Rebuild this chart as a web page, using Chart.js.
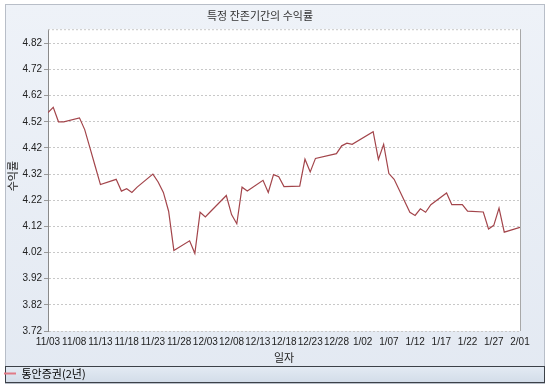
<!DOCTYPE html>
<html>
<head>
<meta charset="utf-8">
<script src="https://cdn.jsdelivr.net/npm/chart.js@4"></script>
<style>
  html, body { margin: 0; padding: 0; background: #fff; }
</style>
</head>
<body>
<canvas id="chart" width="550" height="389"></canvas>
<script>
const chartTitle = '특정 잔존기간의 수익률';
const seriesName = '통안증권(2년)';
const xTitle = '일자';
const yTitle = '수익률';

// days counted from 11/03, business days only
const days = [0, 1, 2, 3, 6, 7, 8, 9, 10, 13, 14, 15, 16, 17, 20, 21, 22, 23, 24, 27, 28, 29, 30, 31,
  34, 35, 36, 37, 38, 41, 42, 43, 44, 45, 48, 49, 50, 51, 55, 56, 57, 58, 62, 63, 64, 65, 66,
  69, 70, 71, 72, 73, 76, 77, 78, 79, 80, 83, 84, 85, 86, 87, 90];
const yields = [4.555, 4.575, 4.52, 4.52, 4.535, 4.49, 4.42, 4.35, 4.28, 4.30, 4.255, 4.264, 4.25, 4.27,
  4.32, 4.29, 4.25, 4.178, 4.028, 4.065, 4.017, 4.174, 4.156, 4.177, 4.238, 4.165, 4.13, 4.27, 4.255,
  4.296, 4.25, 4.318, 4.31, 4.272, 4.274, 4.377, 4.328, 4.38, 4.398, 4.428, 4.438, 4.434, 4.482,
  4.376, 4.434, 4.322, 4.30, 4.174, 4.162, 4.187, 4.174, 4.203, 4.248, 4.203, 4.203, 4.203, 4.178,
  4.175, 4.11, 4.124, 4.19, 4.098, 4.116];

const xTickLabels = ['11/03', '11/08', '11/13', '11/18', '11/23', '11/28', '12/03', '12/08', '12/13',
  '12/18', '12/23', '12/28', '1/02', '1/07', '1/12', '1/17', '1/22', '1/27', '2/01'];
const yTickLabels = ['3.72', '3.82', '3.92', '4.02', '4.12', '4.22', '4.32', '4.42', '4.52', '4.62', '4.72', '4.82'];

const korean = "'Noto Sans CJK KR', sans-serif";
const latin = "'Liberation Sans', Arial, sans-serif";

// frame, legend box, white plot area, y title
const framePlugin = {
  id: 'frame',
  beforeDraw(chart) {
    const ctx = chart.ctx;
    const a = chart.chartArea;
    ctx.save();
    const g = ctx.createLinearGradient(0, 4, 0, 384);
    g.addColorStop(0, '#eef2f8');
    g.addColorStop(1, '#e3e9f2');
    ctx.fillStyle = g;
    ctx.fillRect(5, 4, 539, 380);
    ctx.strokeStyle = '#b8bec8';
    ctx.lineWidth = 1;
    ctx.strokeRect(5.5, 4.5, 539, 379);

    const lt = 366;
    const lgr = ctx.createLinearGradient(0, lt, 0, 383);
    lgr.addColorStop(0, '#e4ebf4');
    lgr.addColorStop(1, '#d2dce8');
    ctx.fillStyle = lgr;
    ctx.fillRect(5, lt, 539, 383 - lt);
    ctx.strokeStyle = '#3c4148';
    ctx.strokeRect(5.5, lt + 0.5, 539, 383 - lt - 1);

    ctx.fillStyle = '#ffffff';
    ctx.fillRect(a.left, a.top, a.right - a.left, a.bottom - a.top);
    ctx.restore();
  },
  beforeDatasetsDraw(chart) {
    const ctx = chart.ctx;
    const a = chart.chartArea;
    ctx.save();
    ctx.lineWidth = 1;
    ctx.strokeStyle = '#c8c8c8';
    ctx.setLineDash([2, 2]);
    ctx.beginPath();
    ctx.moveTo(a.left, a.top + 0.5);
    ctx.lineTo(a.right, a.top + 0.5);
    ctx.stroke();
    ctx.setLineDash([]);
    ctx.strokeStyle = '#a8a8a8';
    ctx.beginPath();
    ctx.moveTo(a.right + 0.5, a.top);
    ctx.lineTo(a.right + 0.5, a.bottom);
    ctx.stroke();
    ctx.restore();
  },
  afterDraw(chart) {
    const ctx = chart.ctx;
    const a = chart.chartArea;
    ctx.save();
    ctx.translate(13, (a.top + a.bottom) / 2 - 4);
    ctx.rotate(-Math.PI / 2);
    ctx.font = '11px ' + korean;
    ctx.fillStyle = '#222';
    ctx.textAlign = 'center';
    ctx.textBaseline = 'middle';
    ctx.fillText(yTitle, 0, 0);
    ctx.restore();
  }
};

new Chart(document.getElementById('chart'), {
  type: 'line',
  data: {
    datasets: [{
      label: seriesName,
      data: days.map((d, i) => ({ x: d, y: yields[i] })),
      borderColor: '#a3454b',
      backgroundColor: '#e07a86',
      borderWidth: 1.2,
      pointRadius: 0,
      tension: 0
    }]
  },
  options: {
    responsive: false,
    animation: false,
    layout: { padding: { left: 0, right: 30, top: 0, bottom: 0 } },
    plugins: {
      title: {
        display: true,
        text: chartTitle,
        color: '#333',
        font: { family: korean, size: 11, weight: 'normal' },
        padding: { top: 9, bottom: 7 }
      },
      legend: {
        position: 'bottom',
        align: 'start',
        labels: {
          boxWidth: 12,
          boxHeight: 2,
          padding: 4,
          color: '#222',
          font: { family: korean, size: 11 },
          generateLabels: () => [{
            text: seriesName, fillStyle: '#e07a86', strokeStyle: '#e07a86', lineWidth: 0, datasetIndex: 0
          }]
        }
      },
      tooltip: { enabled: false }
    },
    scales: {
      x: {
        type: 'linear',
        min: 0,
        max: 90,
        afterBuildTicks: (scale) => { scale.ticks = xTickLabels.map((l, i) => ({ value: i * 5 })); },
        afterFit: (scale) => { scale.height = 33; },
        ticks: {
          autoSkip: false,
          maxRotation: 0,
          padding: 5,
          color: '#222',
          font: { family: latin, size: 10 },
          callback: (v, i) => xTickLabels[i]
        },
        grid: { drawOnChartArea: false, drawTicks: false },
        border: { display: false },
        title: {
          display: true,
          text: xTitle,
          color: '#222',
          font: { family: korean, size: 11 },
          padding: { top: 3, bottom: 0 }
        }
      },
      y: {
        min: 3.72,
        max: 4.874,
        afterBuildTicks: (scale) => { scale.ticks = yTickLabels.map((l) => ({ value: parseFloat(l) })); },
        afterFit: (scale) => { scale.width = 48; },
        ticks: {
          padding: 2,
          color: '#222',
          font: { family: latin, size: 10 },
          callback: (v, i) => yTickLabels[i]
        },
        grid: { color: '#c8c8c8', tickLength: 4, tickColor: '#999', tickBorderDash: [] },
        border: { display: true, color: '#8a8a8a', dash: [2, 2] }
      }
    }
  },
  plugins: [framePlugin]
});
</script>
</body>
</html>
